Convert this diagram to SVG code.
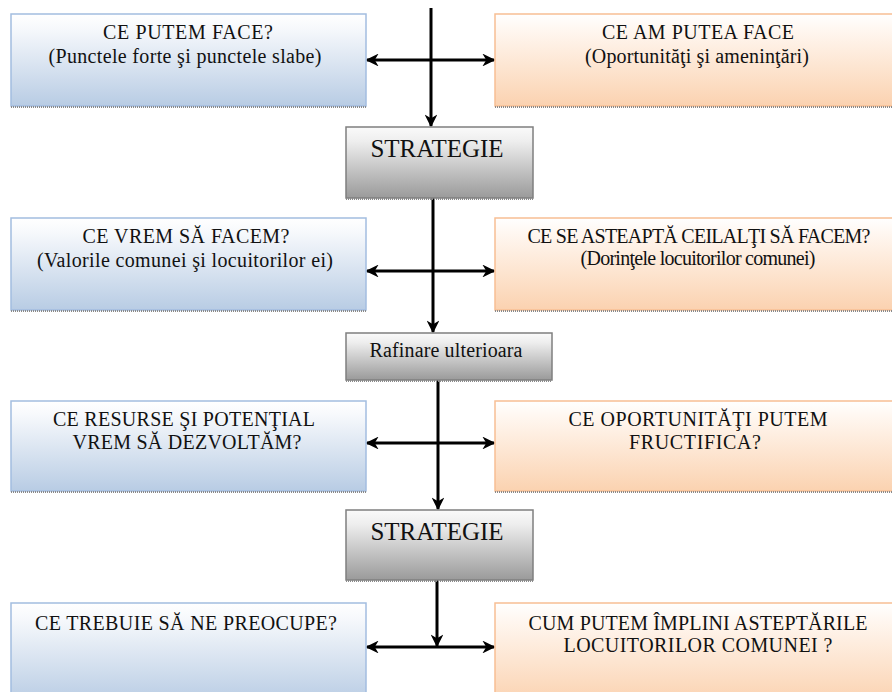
<svg xmlns="http://www.w3.org/2000/svg" width="892" height="692" viewBox="0 0 892 692" font-family="'Liberation Serif', 'DejaVu Serif', serif">
<defs>
<linearGradient id="gBlue" x1="0" y1="0" x2="0" y2="1">
<stop offset="0" stop-color="#ffffff"/><stop offset="0.15" stop-color="#f7f9fc"/><stop offset="1" stop-color="#b8cce4"/>
</linearGradient>
<linearGradient id="gPeach" x1="0" y1="0" x2="0" y2="1">
<stop offset="0" stop-color="#ffffff"/><stop offset="0.15" stop-color="#fff8f2"/><stop offset="1" stop-color="#fbd2b0"/>
</linearGradient>
<linearGradient id="gGray" x1="0" y1="0" x2="0" y2="1">
<stop offset="0" stop-color="#fafafa"/><stop offset="0.2" stop-color="#eeeeee"/><stop offset="1" stop-color="#9a9a9a"/>
</linearGradient>
<marker id="ah" viewBox="0 0 10 10" refX="9" refY="5" markerWidth="4.3" markerHeight="4.3" orient="auto-start-reverse" markerUnits="strokeWidth">
<path d="M0,0 L10,5 L0,10 L3,5 z" fill="#000"/>
</marker>
</defs>
<style>
.blue{fill:url(#gBlue);stroke:#a3bde0;stroke-width:1.5}
.peach{fill:url(#gPeach);stroke:#f8bf94;stroke-width:1.5}
.gray{fill:url(#gGray);stroke:#7f7f7f;stroke-width:1.5}
.sh{stroke:#8a8a8a;stroke-width:2;stroke-dasharray:1 1;fill:none}
.t{font-family:'Liberation Serif','DejaVu Serif',serif;font-size:20px;fill:#111;text-anchor:middle}
.big{font-size:25px}
.c{stroke:#000;stroke-width:3;fill:none}
</style>
<g id="connectors">
<line class="c" x1="431" y1="8" x2="431" y2="126" marker-end="url(#ah)"/>
<line class="c" x1="433" y1="198" x2="433" y2="332" marker-end="url(#ah)"/>
<line class="c" x1="438" y1="380" x2="438" y2="509" marker-end="url(#ah)"/>
<line class="c" x1="437" y1="580" x2="437" y2="646" marker-end="url(#ah)"/>
<line class="c" x1="367" y1="60" x2="494" y2="60" marker-start="url(#ah)" marker-end="url(#ah)"/>
<line class="c" x1="367" y1="271" x2="494" y2="271" marker-start="url(#ah)" marker-end="url(#ah)"/>
<line class="c" x1="367" y1="443" x2="494" y2="443" marker-start="url(#ah)" marker-end="url(#ah)"/>
<line class="c" x1="367" y1="647" x2="494" y2="647" marker-start="url(#ah)" marker-end="url(#ah)"/>
</g>
<g id="n1">
<rect class="blue" x="11" y="14" width="355" height="92"/>
<line class="sh" x1="11" y1="107" x2="366" y2="107"/>
<text class="t" x="188" y="39" textLength="170">CE PUTEM FACE?</text>
<text class="t" x="185" y="63" textLength="273">(Punctele forte şi punctele slabe)</text>
</g>
<g id="n2">
<rect class="peach" x="495" y="14" width="410" height="92"/>
<line class="sh" x1="495" y1="107" x2="892" y2="107"/>
<text class="t" x="698" y="39" textLength="192">CE AM PUTEA FACE</text>
<text class="t" x="697" y="63" textLength="224">(Oportunităţi şi ameninţări)</text>
</g>
<g id="n3">
<rect class="gray" x="346" y="127" width="187" height="71"/>
<line class="sh" x1="346" y1="199" x2="533" y2="199"/>
<text class="t big" x="437" y="157" textLength="133">STRATEGIE</text>
</g>
<g id="n4">
<rect class="blue" x="11" y="218" width="355" height="92"/>
<line class="sh" x1="11" y1="311" x2="366" y2="311"/>
<text class="t" x="186" y="243" textLength="207">CE VREM SĂ FACEM?</text>
<text class="t" x="185" y="267" textLength="296">(Valorile comunei şi locuitorilor ei)</text>
</g>
<g id="n5">
<rect class="peach" x="495" y="218" width="410" height="92"/>
<line class="sh" x1="495" y1="311" x2="892" y2="311"/>
<text class="t" x="699" y="243" textLength="343">CE SE ASTEAPTĂ CEILALŢI SĂ FACEM?</text>
<text class="t" x="698" y="265" textLength="235">(Dorinţele locuitorilor comunei)</text>
</g>
<g id="n6">
<rect class="gray" x="346" y="333" width="206" height="47"/>
<line class="sh" x1="346" y1="381" x2="552" y2="381"/>
<text class="t" x="446" y="357" textLength="153">Rafinare ulterioara</text>
</g>
<g id="n7">
<rect class="blue" x="11" y="401" width="355" height="90"/>
<line class="sh" x1="11" y1="492" x2="366" y2="492"/>
<text class="t" x="184" y="426" textLength="262">CE RESURSE ŞI POTENŢIAL</text>
<text class="t" x="187" y="449" textLength="229">VREM SĂ DEZVOLTĂM?</text>
</g>
<g id="n8">
<rect class="peach" x="495" y="401" width="410" height="90"/>
<line class="sh" x1="495" y1="492" x2="892" y2="492"/>
<text class="t" x="698" y="426" textLength="259">CE OPORTUNITĂŢI PUTEM</text>
<text class="t" x="695" y="449" textLength="132">FRUCTIFICA?</text>
</g>
<g id="n9">
<rect class="gray" x="346" y="510" width="187" height="70"/>
<line class="sh" x1="346" y1="581" x2="533" y2="581"/>
<text class="t big" x="437" y="540" textLength="133">STRATEGIE</text>
</g>
<g id="n10">
<rect class="blue" x="11" y="603" width="355" height="100"/>
<text class="t" x="186" y="630" textLength="302">CE TREBUIE SĂ NE PREOCUPE?</text>
</g>
<g id="n11">
<rect class="peach" x="495" y="603" width="410" height="100"/>
<text class="t" x="698" y="630" textLength="339">CUM PUTEM ÎMPLINI ASTEPTĂRILE</text>
<text class="t" x="698" y="652" textLength="269">LOCUITORILOR COMUNEI ?</text>
</g>
</svg>
